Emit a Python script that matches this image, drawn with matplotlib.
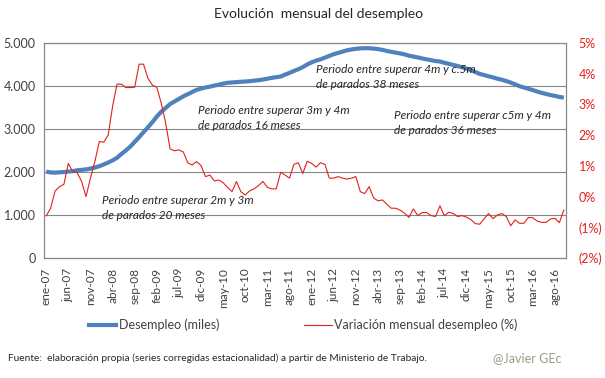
import numpy as np
import matplotlib
matplotlib.use("Agg")
import matplotlib.pyplot as plt
from matplotlib.lines import Line2D

plt.rcParams["font.family"] = ["Lato", "DejaVu Sans"]

# Datos (ene-07 .. oct-16, mensual)
desempleo = [
    2010, 1990, 1985, 1992, 1998, 2010, 2020, 2040, 2050, 2060,
    2080, 2105, 2135, 2175, 2220, 2270, 2330, 2420, 2500, 2590,
    2700, 2810, 2925, 3040, 3160, 3290, 3400, 3490, 3580, 3640,
    3700, 3760, 3810, 3860, 3910, 3940, 3965, 3985, 4010, 4030,
    4055, 4075, 4082, 4090, 4098, 4105, 4112, 4125, 4135, 4150,
    4170, 4190, 4205, 4220, 4265, 4305, 4350, 4390, 4440, 4500,
    4550, 4590, 4620, 4660, 4700, 4740, 4770, 4800, 4830, 4850,
    4865, 4875, 4880, 4878, 4870, 4858, 4840, 4815, 4795, 4775,
    4758, 4735, 4705, 4685, 4665, 4640, 4620, 4600, 4580, 4570,
    4540, 4515, 4490, 4465, 4435, 4405, 4370, 4325, 4280, 4255,
    4225, 4200, 4170, 4145, 4115, 4080, 4040, 3995, 3965, 3935,
    3905, 3870, 3840, 3815, 3790, 3770, 3745, 3730,
]

variacion = [
    -0.63, -0.38, 0.18, 0.32, 0.40, 1.08, 0.81, 0.78, 0.49, 0.00,
    0.60, 1.14, 1.79, 1.77, 2.00, 2.93, 3.66, 3.66, 3.55, 3.55,
    3.56, 4.31, 4.31, 3.85, 3.63, 3.56, 3.04, 2.40, 1.55, 1.49,
    1.52, 1.45, 1.10, 1.03, 1.14, 1.01, 0.65, 0.70, 0.51, 0.54,
    0.45, 0.30, 0.16, 0.49, 0.16, 0.05, 0.19, 0.25, 0.36, 0.49,
    0.30, 0.25, 0.25, 0.79, 0.70, 0.60, 1.05, 1.10, 0.75, 1.15,
    1.08, 0.96, 1.10, 1.05, 0.60, 0.60, 0.65, 0.60, 0.57, 0.60,
    0.65, 0.16, 0.10, 0.32, -0.04, -0.14, -0.11, -0.25, -0.38, -0.38,
    -0.44, -0.54, -0.68, -0.40, -0.62, -0.52, -0.52, -0.62, -0.65, -0.30,
    -0.62, -0.51, -0.55, -0.65, -0.62, -0.67, -0.75, -0.88, -0.90, -0.72,
    -0.55, -0.72, -0.60, -0.55, -0.65, -0.95, -0.76, -0.87, -0.87, -0.68,
    -0.69, -0.80, -0.84, -0.84, -0.73, -0.71, -0.85, -0.44,
]

etiquetas_x = ["ene-07", "jun-07", "nov-07", "abr-08", "sep-08", "feb-09",
               "jul-09", "dic-09", "may-10", "oct-10", "mar-11", "ago-11",
               "ene-12", "jun-12", "nov-12", "abr-13", "sep-13", "feb-14",
               "jul-14", "dic-14", "may-15", "oct-15", "mar-16", "ago-16"]

ticks_izq = [0, 1000, 2000, 3000, 4000, 5000]
etiquetas_izq = ["0", "1.000", "2.000", "3.000", "4.000", "5.000"]
ticks_der = [-2, -1, 0, 1, 2, 3, 4, 5]
etiquetas_der = ["(2%)", "(1%)", "0%", "1%", "2%", "3%", "4%", "5%"]

notas = [
    (102, 208, "Periodo entre superar 2m y 3m\nde parados 20 meses"),
    (198, 118, "Periodo entre superar 3m y 4m\nde parados 16 meses"),
    (316, 77, "Periodo entre superar 4m y c.5m\nde parados 38 meses"),
    (394, 123, "Periodo entre superar c5m y 4m\nde parados 36 meses"),
]

azul = "#4F81BD"
rojo = "#E3201B"
gris = "#868686"
texto = "#404040"

W, H = 605, 378
fig = plt.figure(figsize=(W / 100, H / 100), dpi=100)
ax = fig.add_axes([44 / W, 1 - 258 / H, (566 - 44) / W, (258 - 43) / H])
ax2 = ax.twinx()

x = np.arange(len(desempleo))
ax.plot(x, desempleo, color=azul, lw=3.0, solid_capstyle="butt")
ax2.plot(np.arange(len(variacion)), variacion, color=rojo, lw=0.8)

ax.set_xlim(-0.5, len(desempleo) - 0.5)
ax.set_ylim(0, 5000)
ax2.set_ylim(-2, 5)

ax.set_yticks(ticks_izq)
ax.set_yticklabels(etiquetas_izq, color=texto, fontsize=9)
ax2.set_yticks(ticks_der)
ax2.set_yticklabels(etiquetas_der, color=rojo, fontsize=9)
ax.set_xticks(np.arange(0, len(desempleo), 5)[:len(etiquetas_x)])
ax.set_xticklabels(etiquetas_x, rotation=90, color=texto, fontsize=8.5)

ax.grid(True, axis="y", color=gris, lw=0.8)
ax.set_axisbelow(True)
ax.tick_params(axis="y", length=0, pad=6)
ax2.tick_params(axis="y", length=0, pad=9)
ax.tick_params(axis="x", length=0, pad=7)
for a in (ax, ax2):
    for s in a.spines.values():
        s.set_color(gris)
        s.set_linewidth(0.8)

for px, py, t in notas:
    fig.text(px / W, 1 - py / H, t, fontsize=8.5, style="italic", color="#262626",
             va="center", ha="left", linespacing=1.55)

fig.text(319 / W, 1 - 14 / H, "Evolución  mensual del desempleo", fontsize=10,
         color="#262626", ha="center", va="center")

handles = [Line2D([], [], color=azul, lw=3.0), Line2D([], [], color=rojo, lw=0.8)]
fig.legend(handles, ["Desempleo (miles)", "Variación mensual desempleo (%)"],
           loc="center", bbox_to_anchor=(303 / W, 1 - 325 / H), ncol=2,
           frameon=False, fontsize=9, handlelength=2.2, handletextpad=0.2,
           columnspacing=6.8, labelcolor=texto)

fig.text(8 / W, 1 - 358 / H,
         "Fuente:  elaboración propia (series corregidas estacionalidad) a partir de Ministerio de Trabajo.",
         fontsize=7.3, color="#262626", ha="left", va="center")
fig.text(493 / W, 1 - 358 / H, "@Javier GEc", fontsize=9, color="#A09A86",
         ha="left", va="center")

fig.savefig("out.png", dpi=100)
